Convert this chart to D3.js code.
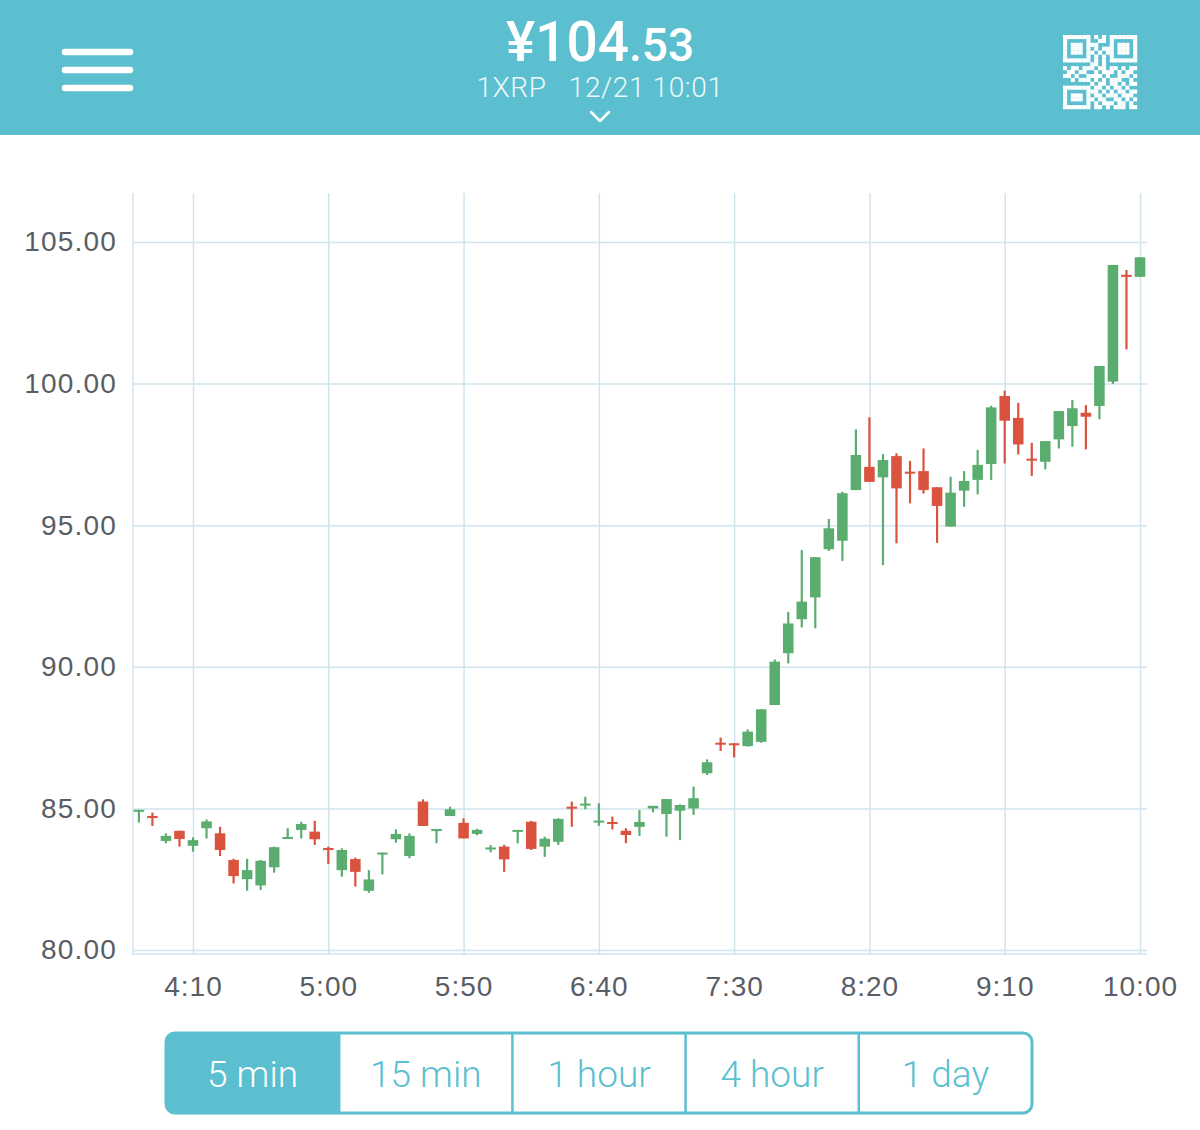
<!DOCTYPE html>
<html>
<head>
<meta charset="utf-8">
<script src="https://cdn.jsdelivr.net/npm/d3@7"></script>
<style>
  body { margin: 0; background: #fff; }
  svg { display: block; }
</style>
</head>
<body>
<div id="chart"></div>
<script>
// candle start times (5 min candles)
var times = ["3:50","3:55","4:00","4:05","4:10","4:15","4:20","4:25","4:30","4:35",
  "4:40","4:45","4:50","4:55","5:00","5:05","5:10","5:15","5:20","5:25",
  "5:30","5:35","5:40","5:45","5:50","5:55","6:00","6:05","6:10","6:15",
  "6:20","6:25","6:30","6:35","6:40","6:45","6:50","6:55","7:00","7:05",
  "7:10","7:15","7:20","7:25","7:30","7:35","7:40","7:45","7:50","7:55",
  "8:00","8:05","8:10","8:15","8:20","8:25","8:30","8:35","8:40","8:45",
  "8:50","8:55","9:00","9:05","9:10","9:15","9:20","9:25","9:30","9:35",
  "9:40","9:45","9:50","9:55","10:00"];

var open = [84.90,84.73,83.85,84.21,83.68,84.30,84.12,83.18,82.50,82.28,
  82.92,83.95,84.24,84.18,83.60,82.82,83.21,82.09,83.39,83.91,
  83.32,85.24,84.24,84.73,84.49,84.10,83.58,83.65,84.20,84.53,
  83.65,83.82,85.06,85.12,84.53,84.52,84.21,84.35,85.00,84.80,
  84.92,85.00,86.24,87.32,87.30,87.20,87.35,88.65,90.48,91.68,
  92.45,94.15,94.45,96.24,97.06,96.69,97.44,96.89,96.91,96.34,
  94.95,96.22,96.60,97.16,99.56,98.79,97.35,97.24,98.03,98.50,
  98.97,99.21,100.07,103.84,103.77];

var high = [84.95,84.85,84.12,84.21,83.98,84.61,84.35,83.22,83.22,83.18,
  83.65,84.30,84.53,84.56,83.65,83.59,83.26,82.82,83.44,84.26,
  84.12,85.32,84.27,85.06,84.65,84.28,83.70,83.71,84.24,84.56,
  84.00,84.65,85.24,85.41,85.18,84.71,84.30,84.94,85.09,85.33,
  85.14,85.77,86.73,87.50,87.30,87.79,88.50,90.26,91.94,94.12,
  93.87,95.22,96.18,98.38,98.81,97.51,97.54,97.27,97.71,96.34,
  96.71,96.91,97.66,99.22,99.75,99.32,97.91,97.97,99.03,99.42,
  99.24,100.62,104.19,104.01,104.46];

var low = [84.50,84.38,83.77,83.65,83.47,83.94,83.32,82.35,82.09,82.12,
  82.73,83.95,83.94,83.71,83.04,82.59,82.24,82.02,82.67,83.79,
  83.24,84.38,83.77,84.73,83.94,84.05,83.45,82.76,83.77,83.53,
  83.29,83.71,84.35,84.97,84.38,84.26,83.77,84.03,84.86,84.00,
  83.88,84.77,86.18,87.03,86.80,87.18,87.32,88.65,90.12,91.39,
  91.36,94.09,93.74,96.24,96.53,93.59,94.36,95.77,96.12,94.38,
  94.95,95.65,96.09,96.60,97.18,97.50,96.74,96.97,97.71,97.77,
  97.68,98.74,99.99,101.21,103.77];

var close = [84.95,84.69,84.03,83.92,83.88,84.54,83.53,82.61,82.82,83.15,
  83.63,83.99,84.45,83.91,83.55,83.53,82.76,82.49,83.44,84.10,
  84.03,84.38,84.27,84.97,83.94,84.24,83.62,83.20,84.24,83.57,
  83.93,84.63,85.01,85.17,84.57,84.47,84.06,84.52,85.09,85.33,
  85.12,85.36,86.63,87.27,87.25,87.71,88.50,90.18,91.53,92.30,
  93.87,94.89,96.13,97.48,96.53,97.30,96.30,96.84,96.24,95.68,
  96.15,96.56,97.13,99.16,98.69,97.85,97.30,97.97,99.03,99.13,
  98.83,100.62,104.19,103.79,104.46];

var xTickLabels = ["4:10","5:00","5:50","6:40","7:30","8:20","9:10","10:00"];
var yTicks = [80, 85, 90, 95, 100, 105];
var periods = ["5 min", "15 min", "1 hour", "4 hour", "1 day"];

var W = 1200, H = 1130;
var theme = "#5bbfd0";
var up = "#5aad6e", down = "#d9533e";
var grid = "#d0e5ee";
var labelColor = "#595e66";

var plot = {left: 133, right: 1147, top: 193, bottom: 955};

var parse = d3.timeParse("%H:%M");
var data = times.map(function(t, i) {
  return {t: parse(t), o: open[i], h: high[i], l: low[i], c: close[i]};
});

var svg = d3.select("#chart").append("svg")
  .attr("width", W).attr("height", H)
  .style("font-family", "'Helvetica Neue', Roboto, 'Open Sans', sans-serif");

// ---- header ----
svg.append("rect").attr("width", W).attr("height", 135).attr("fill", theme);

// hamburger
[52, 70, 88].forEach(function(yy) {
  svg.append("line")
    .attr("x1", 65).attr("x2", 130).attr("y1", yy).attr("y2", yy)
    .attr("stroke", "#fff").attr("stroke-width", 6.5).attr("stroke-linecap", "round");
});

var price = svg.append("text")
  .attr("x", 600).attr("y", 61)
  .attr("text-anchor", "middle")
  .attr("fill", "#fff")
  .style("font-weight", 500);
price.append("tspan").style("font-size", "55px").text("¥104");
price.append("tspan").style("font-size", "46px").text(".53");

svg.append("text")
  .attr("x", 600).attr("y", 97)
  .attr("text-anchor", "middle")
  .attr("fill", "#eef9fb")
  .style("font-size", "28px")
  .style("font-weight", 300)
  .style("letter-spacing", "0.6px")
  .attr("xml:space", "preserve")
  .text("1XRP   12/21 10:01");

svg.append("path")
  .attr("d", "M591,112 L600,121 L609,112")
  .attr("fill", "none").attr("stroke", "#fff")
  .attr("stroke-width", 2.5).attr("stroke-linecap", "round").attr("stroke-linejoin", "round");

// QR icon (decorative pattern)
var qrRows = [
  "1111111010101111111",
  "1000001001101000001",
  "1011101110001011101",
  "1011101010111011101",
  "1011101101011011101",
  "1000001010101000001",
  "1111111010101111111",
  "0000000110100000000",
  "1011011101101101011",
  "0110110010111010110",
  "1101001111010011101",
  "0010111010101110010",
  "0000000101101101011",
  "1111111011010110100",
  "1000001110101011011",
  "1011101011011101110",
  "1011101101100110101",
  "1000001010111011010",
  "1111111011010111011"
];
var qrG = svg.append("g").attr("transform", "translate(1063,35)");
var cell = 74 / qrRows.length;
qrRows.forEach(function(row, r) {
  row.split("").forEach(function(b, c) {
    if (b === "1") {
      qrG.append("rect").attr("x", c * cell).attr("y", r * cell)
        .attr("width", cell + 0.2).attr("height", cell + 0.2).attr("fill", "#fff");
    }
  });
});

// ---- chart ----
// anchor the time scale so 4:10 -> x=193 and 10:00 -> x=1140
var t410 = parse("4:10").getTime(), t1000 = parse("10:00").getTime();
var pxPerMs = (1140 - 193) / (t1000 - t410);
var x = d3.scaleTime()
  .domain([new Date(t410 - (193 - plot.left) / pxPerMs), new Date(t1000 + (plot.right - 1140) / pxPerMs)])
  .range([plot.left, plot.right]);

var y = d3.scaleLinear().domain([80, 105]).range([950, 242]);

// horizontal gridlines + y labels
var yAxis = svg.append("g")
  .attr("transform", "translate(" + plot.left + ",0)")
  .call(d3.axisLeft(y).tickValues(yTicks).tickFormat(d3.format(".2f"))
    .tickSize(-(plot.right - plot.left)).tickPadding(16));
yAxis.select(".domain").remove();
yAxis.selectAll("line").attr("stroke", grid).attr("stroke-width", 1.5);
yAxis.selectAll("text")
  .attr("fill", labelColor)
  .style("font-size", "28px")
  .style("letter-spacing", "1.2px");

// vertical gridlines + x labels
var xTicks = xTickLabels.map(parse);
var xAxis = svg.append("g")
  .attr("transform", "translate(0," + plot.bottom + ")")
  .call(d3.axisBottom(x).tickValues(xTicks)
    .tickFormat(function(d, i) { return xTickLabels[i]; })
    .tickSize(-(plot.bottom - plot.top)).tickPadding(21));
xAxis.select(".domain").remove();
xAxis.selectAll("line").attr("stroke", grid).attr("stroke-width", 1.5);
xAxis.selectAll("text")
  .attr("fill", labelColor)
  .style("font-size", "28px")
  .style("letter-spacing", "1px");

// plot frame (left + bottom)
svg.append("line").attr("x1", plot.left).attr("x2", plot.left)
  .attr("y1", plot.top).attr("y2", plot.bottom)
  .attr("stroke", grid).attr("stroke-width", 1.5);
svg.append("line").attr("x1", plot.left).attr("x2", plot.right)
  .attr("y1", plot.bottom - 1).attr("y2", plot.bottom - 1)
  .attr("stroke", grid).attr("stroke-width", 1.5);

// candles
var step = x(parse("3:55")) - x(parse("3:50"));
var bodyW = step * 0.78;
var candles = svg.append("g").selectAll("g").data(data).enter().append("g");

candles.append("line")
  .attr("x1", function(d) { return x(d.t); })
  .attr("x2", function(d) { return x(d.t); })
  .attr("y1", function(d) { return y(d.h); })
  .attr("y2", function(d) { return y(d.l); })
  .attr("stroke", function(d) { return d.c >= d.o ? up : down; })
  .attr("stroke-width", 2.2);

candles.append("rect")
  .attr("x", function(d) { return x(d.t) - bodyW / 2; })
  .attr("width", bodyW)
  .attr("y", function(d) { return y(Math.max(d.o, d.c)); })
  .attr("height", function(d) { return Math.max(2, Math.abs(y(d.o) - y(d.c))); })
  .attr("fill", function(d) { return d.c >= d.o ? up : down; });

// ---- period buttons ----
var btn = {left: 166, top: 1033, width: 866, height: 80};
var bx = d3.scaleBand().domain(periods).range([btn.left, btn.left + btn.width]);

var clip = svg.append("defs").append("clipPath").attr("id", "btnclip");
clip.append("rect").attr("x", btn.left).attr("y", btn.top)
  .attr("width", btn.width).attr("height", btn.height).attr("rx", 9);

var bg = svg.append("g").attr("clip-path", "url(#btnclip)");
bg.append("rect")
  .attr("x", bx(periods[0])).attr("y", btn.top)
  .attr("width", bx.bandwidth()).attr("height", btn.height)
  .attr("fill", theme);

periods.slice(1).forEach(function(p) {
  svg.append("line").attr("x1", bx(p)).attr("x2", bx(p))
    .attr("y1", btn.top).attr("y2", btn.top + btn.height)
    .attr("stroke", theme).attr("stroke-width", 2.5);
});

svg.append("rect").attr("x", btn.left).attr("y", btn.top)
  .attr("width", btn.width).attr("height", btn.height).attr("rx", 9)
  .attr("fill", "none").attr("stroke", theme).attr("stroke-width", 3);

svg.selectAll(".btnlabel").data(periods).enter().append("text")
  .attr("class", "btnlabel")
  .attr("x", function(d) { return bx(d) + bx.bandwidth() / 2; })
  .attr("y", 1087)
  .attr("text-anchor", "middle")
  .attr("fill", function(d, i) { return i === 0 ? "#fff" : theme; })
  .style("font-size", "37px")
  .style("font-weight", 300)
  .text(function(d) { return d; });
</script>
</body>
</html>
